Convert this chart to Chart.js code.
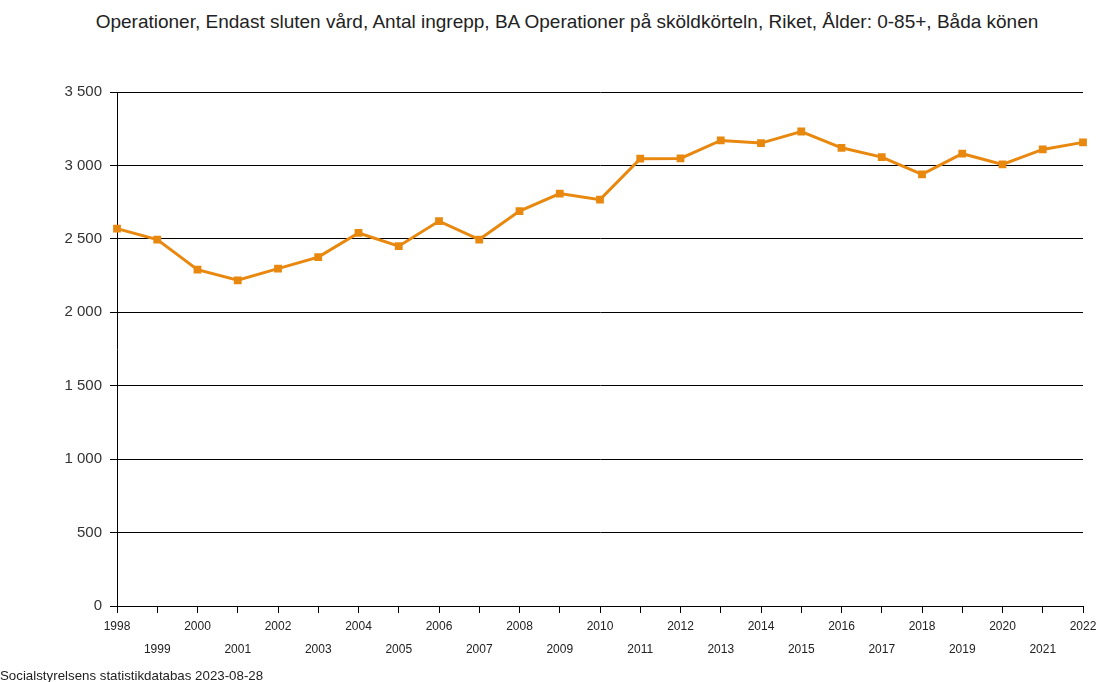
<!DOCTYPE html>
<html>
<head>
<meta charset="utf-8">
<script src="https://cdn.jsdelivr.net/npm/chart.js@4.4.0/dist/chart.umd.min.js"></script>
<style>
  html, body { margin: 0; padding: 0; background: #fff; }
  #wrap { position: relative; width: 1096px; height: 682px; }
  #title { position: absolute; left: 0; width: 1134px; top: 11px; text-align: center;
           font-family: "Liberation Sans", Arial, sans-serif; font-size: 19px; color: #222; white-space: nowrap; }
  #source { position: absolute; left: 0; top: 668px; font-family: "Liberation Sans", Arial, sans-serif;
            font-size: 13.3px; color: #222; white-space: nowrap; }
  canvas { position: absolute; left: 0; top: 0; }
</style>
</head>
<body>
<div id="wrap">
  <div id="title">Operationer, Endast sluten vård, Antal ingrepp, BA Operationer på sköldkörteln, Riket, Ålder: 0-85+, Båda könen</div>
  <canvas id="c" width="1096" height="682"></canvas>
  <div id="source">Socialstyrelsens statistikdatabas 2023-08-28</div>
</div>
<script>
// Years on the category axis
const years = ['1998','1999','2000','2001','2002','2003','2004','2005','2006','2007','2008','2009','2010',
               '2011','2012','2013','2014','2015','2016','2017','2018','2019','2020','2021','2022'];
// Number of thyroid operations (inpatient care), both sexes, whole country
const operations = [2570, 2495, 2290, 2218, 2297, 2376, 2540, 2450, 2621, 2495, 2689, 2808, 2767,
                    3046, 3048, 3170, 3152, 3231, 3120, 3057, 2939, 3080, 3007, 3109, 3157];
// Value axis ticks
const yTicks = [0, 500, 1000, 1500, 2000, 2500, 3000, 3500];

const lineColor = '#E8880F';

const fmt = v => String(v).replace(/\B(?=(\d{3})+(?!\d))/g, ' ');

new Chart(document.getElementById('c'), {
  type: 'line',
  data: {
    labels: years,
    datasets: [{
      data: operations,
      borderColor: lineColor,
      backgroundColor: lineColor,
      borderWidth: 3,
      pointStyle: 'rect',
      pointRadius: 5.5,
      pointBorderWidth: 0,
      pointBackgroundColor: lineColor,
      tension: 0,
      fill: false
    }]
  },
  options: {
    responsive: false,
    animation: false,
    layout: { padding: { top: 92, right: 0, left: 0, bottom: 0 } },
    plugins: { legend: { display: false }, tooltip: { enabled: false } },
    scales: {
      x: {
        offset: false,
        afterFit: s => { s.height = 76; s.paddingRight = 13; s.paddingLeft = 0; },
        border: { display: true, color: '#000', width: 1 },
        grid: { display: true, drawOnChartArea: false, drawTicks: true, tickLength: 7, color: '#000', lineWidth: 1 },
        ticks: {
          autoSkip: false, maxRotation: 0, minRotation: 0, padding: 2,
          color: '#222',
          font: { family: '"Liberation Sans", Arial, sans-serif', size: 12, lineHeight: 1.9 },
          callback: function(v, i) { return i % 2 === 0 ? years[i] : ['', years[i]]; }
        }
      },
      y: {
        min: 0, max: 3500,
        afterFit: s => { s.width = 117; },
        afterBuildTicks: s => { s.ticks = yTicks.map(v => ({ value: v })); },
        border: { display: true, color: '#000', width: 1 },
        grid: { color: '#000', lineWidth: 1, drawTicks: true, tickLength: 7 },
        ticks: {
          padding: 8, color: '#333',
          font: { family: '"Liberation Sans", Arial, sans-serif', size: 15 },
          callback: v => fmt(v)
        }
      }
    }
  }
});
</script>
</body>
</html>
